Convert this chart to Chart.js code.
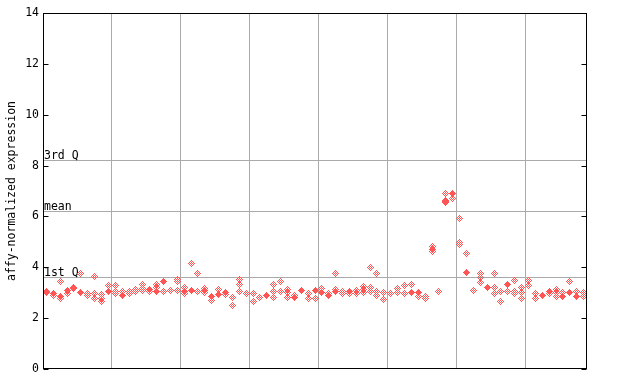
<!DOCTYPE html>
<html>
<head>
<meta charset="utf-8">
<script src="https://cdn.jsdelivr.net/npm/chart.js@4.4.1/dist/chart.umd.min.js"></script>
<style>
  body { margin: 0; background: #fff; }
  #wrap { width: 640px; height: 384px; }
</style>
</head>
<body>
<div id="wrap"><canvas id="chart" width="640" height="384"></canvas></div>
<script>
// ---- data ----
// one filled marker per sample (null = none), and the other replicate markers
const filledVals = [
  3.06, 2.98, 2.86, 3.08, 3.22, 3.02, null, null, null, 3.06,
  null, 2.90, null, null, null, 3.14, 3.04, 3.43, null, null,
  3.06, 3.08, null, 3.08, 2.87, 2.93, 3.01, null, null, null,
  null, null, 2.90, null, null, null, 2.82, 3.08, null, 3.08,
  3.01, 2.90, 3.03, null, 3.06, null, null, null, null, null,
  null, null, null, 3.01, 3.01, null, 4.71, null, 6.58, 6.92,
  null, 3.79, null, null, 3.20, null, null, 3.32, null, null,
  null, null, 2.90, 3.06, null, 2.85, 3.01, 2.85, null
];
const openVals = [
  [3.02], [2.88], [3.45, 2.77], [2.96], [3.16], [3.75], [2.95, 2.88], [3.64, 2.98, 2.78], [2.92, 2.78, 2.66], [3.30],
  [3.30, 3.06, 2.98], [3.06], [3.06, 2.95], [3.12, 3.03], [3.32, 3.16, 3.08], [3.06], [3.32, 3.20], [3.04], [3.08], [3.53, 3.43, 3.10],
  [3.19, 2.98], [4.13], [3.74, 3.06], [3.16, 3.02], [2.69], [3.14], [2.93], [2.82, 2.51], [3.53, 3.32, 3.03], [2.98],
  [2.98, 2.64], [2.82], [], [3.32, 3.03, 2.82], [3.43, 3.03], [3.14, 3.01, 2.82], [2.90], [], [2.95, 2.77], [2.77],
  [3.16], [2.98], [3.77, 3.14], [3.06, 2.98], [2.98], [3.08, 2.98], [3.24, 3.14, 3.01], [3.98, 3.21, 3.06], [3.77, 3.06, 2.90], [3.01, 2.74],
  [2.98], [3.16, 3.01], [3.27, 2.98], [3.32], [2.87], [2.85, 2.77], [4.82, 4.61], [3.06], [6.92, 6.63, 6.53], [6.71],
  [5.90, 4.98, 4.90], [4.56], [3.10], [3.74, 3.58, 3.42], [], [3.77, 3.21, 2.98], [3.06, 2.66], [3.06], [3.49, 3.06, 2.98], [3.22, 3.01, 2.77],
  [3.49, 3.30], [2.98, 2.77], [], [2.98], [3.14, 3.01, 2.87], [3.01], [3.43], [3.06], [3.01, 2.85]
];
const groupBounds = [9.5, 19.5, 29.5, 39.5, 49.5, 59.5, 69.5];
const yTicks = [0, 2, 4, 6, 8, 10, 12, 14];
const quartileVals = [8.21, 6.21, 3.61];
const quartileNames = ["3rd Q", "mean", "1st Q"];

const RED = "#ff5555";
const FONT = { family: "'DejaVu Sans Mono', monospace", size: 11.5 };

// small pixel diamonds, like the reference markers
function diamond(r, checker) {
    const c = document.createElement("canvas");
    const s = 2 * r + 1;
    c.width = s; c.height = s;
    const g = c.getContext("2d");
    g.fillStyle = RED;
    for (let y = 0; y < s; y++) {
        for (let x = 0; x < s; x++) {
            if (Math.abs(x - r) + Math.abs(y - r) > r) continue;
            if (checker && (x + y) % 2 !== r % 2) continue;
            g.fillRect(x, y, 1, 1);
        }
    }
    return c;
}

const filledPts = [];
filledVals.forEach((v, i) => { if (v !== null) filledPts.push({ x: i, y: v }); });
const openPts = [];
openVals.forEach((list, i) => list.forEach(v => openPts.push({ x: i, y: v })));

// frame, inner ticks, quartile lines
const decorations = {
    id: "decorations",
    beforeDatasetsDraw(chart) {
        const { ctx, chartArea: a, scales: { y } } = chart;
        ctx.save();
        ctx.strokeStyle = "#aaaaaa";
        ctx.lineWidth = 1;
        ctx.fillStyle = "#000";
        ctx.font = `${FONT.size}px ${FONT.family}`;
        ctx.textAlign = "left";
        ctx.textBaseline = "alphabetic";
        quartileVals.forEach((v, i) => {
            const py = Math.round(y.getPixelForValue(v)) + 0.5;
            ctx.beginPath();
            ctx.moveTo(a.left, py);
            ctx.lineTo(a.right, py);
            ctx.stroke();
            ctx.fillText(quartileNames[i], a.left + 1, py - 1.5);
        });
        ctx.restore();
        ctx.imageSmoothingEnabled = false;
    },
    afterDatasetsDraw(chart) {
        const { ctx, chartArea: a, scales: { y } } = chart;
        ctx.save();
        ctx.strokeStyle = "#000";
        ctx.lineWidth = 1;
        const l = Math.round(a.left) + 0.5, r = Math.round(a.right) - 0.5;
        const t = Math.round(a.top) + 0.5, b = Math.round(a.bottom) - 0.5;
        ctx.strokeRect(l, t, r - l, b - t);
        ctx.beginPath();
        yTicks.forEach(v => {
            const py = Math.round(y.getPixelForValue(v)) + 0.5;
            ctx.moveTo(l, py); ctx.lineTo(l + 5, py);
            ctx.moveTo(r, py); ctx.lineTo(r - 5, py);
        });
        ctx.stroke();
        ctx.restore();
    }
};

new Chart(document.getElementById("chart"), {
    type: "scatter",
    data: {
        datasets: [
            {
                data: openPts,
                pointStyle: diamond(3, true),
                pointRadius: 3
            },
            {
                data: filledPts,
                pointStyle: diamond(3, false),
                pointRadius: 3
            }
        ]
    },
    options: {
        responsive: false,
        animation: false,
        layout: { padding: { top: 13, right: 53, left: 0, bottom: 0 } },
        plugins: { legend: { display: false }, tooltip: { enabled: false } },
        scales: {
            x: {
                type: "linear",
                min: -0.5,
                max: 78.5,
                afterBuildTicks: s => { s.ticks = groupBounds.map(v => ({ value: v })); },
                ticks: { display: false },
                grid: { color: "#aaaaaa", drawTicks: false },
                border: { display: false },
                afterFit: s => { s.height = 15; }
            },
            y: {
                min: 0,
                max: 14,
                afterBuildTicks: s => { s.ticks = yTicks.map(v => ({ value: v })); },
                ticks: { font: FONT, color: "#000", padding: 4 },
                grid: { display: false, drawTicks: false },
                border: { display: false },
                title: {
                    display: true,
                    text: "affy-normalized expression",
                    font: FONT,
                    color: "#000",
                    padding: { top: 5, bottom: 0 }
                },
                afterFit: s => { s.width = 43; }
            }
        }
    },
    plugins: [decorations]
});
</script>
</body>
</html>
